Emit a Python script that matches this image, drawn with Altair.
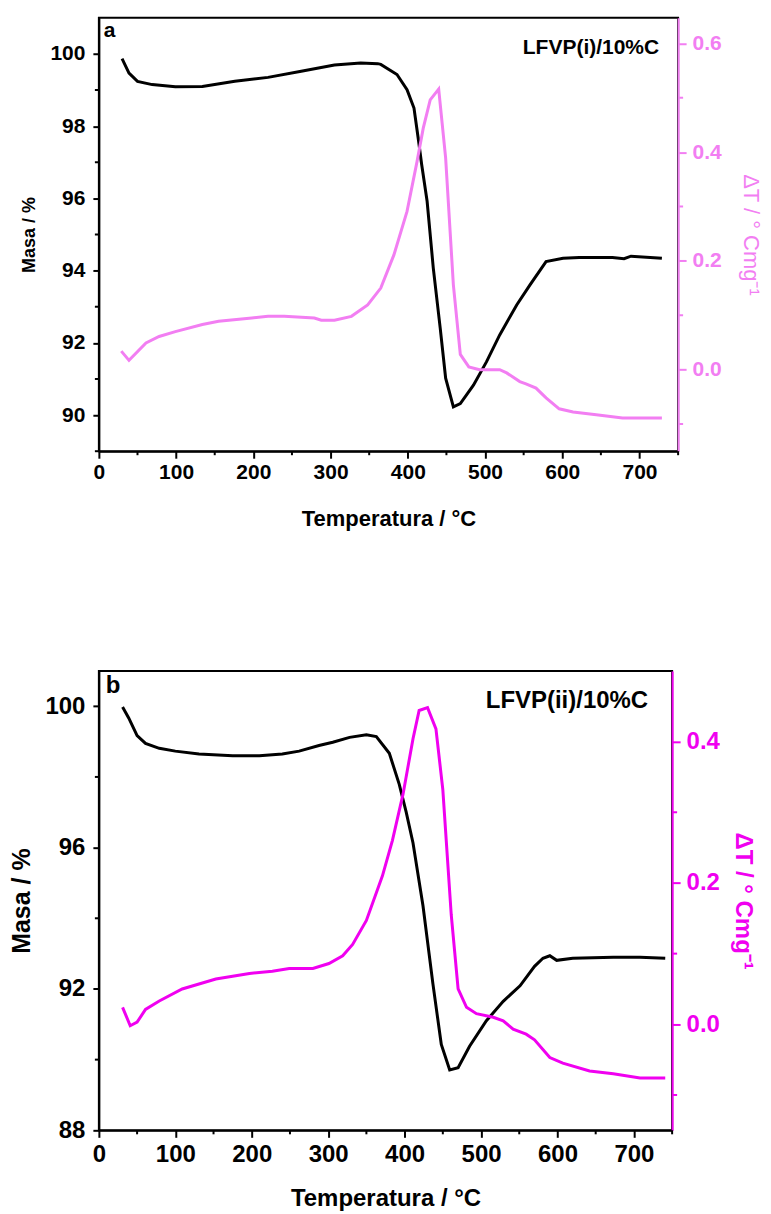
import altair as alt
import pandas as pd

FONT = "Liberation Sans"

# ---------------- Panel a data ----------------
T_a_mass = [30, 39, 50, 69, 99, 134, 176, 219, 262, 305, 339, 361, 365, 386, 399, 408, 414,
            418, 425, 433, 442, 449, 459, 468, 485, 502, 519, 541, 558, 579, 601, 622, 665,
            680, 689, 729]
mass_a = [99.87, 99.47, 99.24, 99.15, 99.09, 99.10, 99.24, 99.35, 99.52, 99.69, 99.75, 99.73,
          99.71, 99.43, 99.01, 98.50, 97.58, 96.93, 95.92, 94.07, 92.40, 91.02, 90.23, 90.32,
          90.83, 91.48, 92.22, 93.05, 93.60, 94.25, 94.34, 94.36, 94.36, 94.33, 94.40, 94.34]

T_a_dta = [29, 39, 61, 78, 99, 134, 155, 198, 219, 240, 279, 288, 305, 327, 348, 365, 382,
           399, 412, 420, 429, 440, 449, 459, 468, 479, 493, 519, 528, 545, 553, 566, 579,
           596, 614, 644, 678, 729]
dta_a = [0.034, 0.017, 0.049, 0.061, 0.070, 0.083, 0.089, 0.095, 0.098, 0.098, 0.095, 0.091,
         0.091, 0.098, 0.119, 0.150, 0.211, 0.291, 0.383, 0.444, 0.496, 0.516, 0.389, 0.156,
         0.028, 0.005, 0.000, 0.000, -0.006, -0.022, -0.026, -0.034, -0.052, -0.072, -0.078,
         -0.083, -0.089, -0.089]

# ---------------- Panel b data ----------------
T_b_mass = [31, 39, 50, 61, 79, 100, 131, 175, 210, 240, 262, 288, 306, 328, 350, 363, 380,
            393, 402, 411, 424, 437, 448, 459, 470, 485, 507, 529, 551, 570, 581, 590, 599,
            620, 673, 708, 741]
mass_b = [99.98, 99.67, 99.17, 98.95, 98.81, 98.73, 98.65, 98.60, 98.60, 98.65, 98.73, 98.89,
          98.98, 99.12, 99.19, 99.14, 98.67, 97.79, 97.01, 96.13, 94.36, 92.15, 90.43, 89.71,
          89.77, 90.38, 91.10, 91.65, 92.09, 92.64, 92.87, 92.94, 92.81, 92.87, 92.90, 92.90,
          92.87]

T_b_dta = [31, 41, 50, 61, 79, 109, 153, 197, 227, 249, 280, 301, 319, 332, 350, 371, 384,
           398, 411, 419, 430, 441, 450, 461, 470, 481, 494, 516, 529, 542, 559, 570, 590,
           607, 642, 673, 708, 741]
dta_b = [0.024, -0.002, 0.003, 0.021, 0.033, 0.050, 0.064, 0.072, 0.075, 0.079, 0.079, 0.086,
         0.097, 0.113, 0.147, 0.210, 0.260, 0.326, 0.404, 0.444, 0.448, 0.418, 0.332, 0.155,
         0.050, 0.024, 0.015, 0.010, 0.005, -0.007, -0.014, -0.022, -0.047, -0.055, -0.066,
         -0.070, -0.076, -0.076]

# ---------------- Text ----------------
panel_letters = ["a", "b"]
sample_labels = ["LFVP(i)/10%C", "LFVP(ii)/10%C"]
x_title = "Temperatura / °C"
y_title = "Masa / %"
y2_title = "ΔT / ° Cmg⁻¹"

# ---------------- Ticks ----------------
x_major = [0, 100, 200, 300, 400, 500, 600, 700]
x_minor = [50, 150, 250, 350, 450, 550, 650, 750]
ya_major = [90, 92, 94, 96, 98, 100]
ya_minor = [89, 91, 93, 95, 97, 99]
ya2_major = [0.0, 0.2, 0.4, 0.6]
ya2_minor = [-0.1, 0.1, 0.3, 0.5]
yb_major = [88, 92, 96, 100]
yb_minor = [90, 94, 98]
yb2_major = [0.0, 0.2, 0.4]
yb2_minor = [-0.1, 0.1, 0.3]


def panel(T_m, m, T_d, d, y_dom, y_major, y_minor, y2_dom, y2_major, y2_minor, pink, width,
          height, fs_tick, fs_xtitle, fs_ytitle, fs_y2title, y2_weight, letter, label,
          fs_label, letter_pos, label_pos, ytp, y2tp, xtp, xlp):
    df_m = pd.DataFrame({"T": T_m, "M": m})
    df_d = pd.DataFrame({"T": T_d, "D": d})
    xscale = alt.Scale(domain=[0, 750], nice=False)
    yscale = alt.Scale(domain=y_dom, nice=False, zero=False)
    y2scale = alt.Scale(domain=y2_dom, nice=False, zero=False)
    common = dict(grid=False, domainWidth=2, tickWidth=2, labelFont=FONT, titleFont=FONT,
                  labelFontWeight="bold", labelFlush=False)
    xaxis = alt.Axis(values=x_major, title=x_title, tickSize=7, labelPadding=xlp,
                     labelFontSize=fs_tick, titleFontSize=fs_xtitle, titlePadding=xtp,
                     domainColor="black", tickColor="black", labelColor="black",
                     titleColor="black", titleFontWeight="bold", **common)
    black = alt.Chart(df_m).mark_line(color="black", strokeWidth=3).encode(
        x=alt.X("T:Q", scale=xscale, axis=xaxis),
        y=alt.Y("M:Q", scale=yscale,
                axis=alt.Axis(values=y_major, title=y_title, tickSize=6, labelPadding=8,
                              labelFontSize=fs_tick, titleFontSize=fs_ytitle,
                              titlePadding=ytp, domainColor="black", tickColor="black",
                              labelColor="black", titleColor="black",
                              titleFontWeight="bold", **common)),
    )
    red = alt.Chart(df_d).mark_line(color=pink, strokeWidth=3).encode(
        x=alt.X("T:Q", scale=xscale, axis=xaxis),
        y=alt.Y("D:Q", scale=y2scale,
                axis=alt.Axis(orient="right", values=y2_major, title=y2_title, format=".1f",
                              tickSize=8, labelPadding=6, labelFontSize=fs_tick,
                              titleFontSize=fs_y2title, titlePadding=y2tp, titleAngle=90,
                              domainColor=pink, tickColor=pink, labelColor=pink,
                              titleColor=pink, titleFontWeight=y2_weight, **common)),
    )
    # minor ticks, positioned through the same scales
    xmin = alt.Chart(pd.DataFrame({"v": x_minor})).mark_rule(color="black", strokeWidth=2).encode(
        x=alt.X("v:Q", scale=xscale, axis=xaxis),
        y=alt.value(height), y2=alt.value(height + 4))
    ymin = alt.Chart(pd.DataFrame({"v": y_minor})).mark_rule(color="black", strokeWidth=2).encode(
        y=alt.Y("v:Q", scale=yscale, axis=None),
        x=alt.value(0), x2=alt.value(-4))
    y2min = alt.Chart(pd.DataFrame({"v": y2_minor})).mark_rule(color=pink, strokeWidth=2).encode(
        y=alt.Y("v:Q", scale=y2scale, axis=None),
        x=alt.value(width), x2=alt.value(width + 5))
    t_letter = alt.Chart(pd.DataFrame({"t": [letter]})).mark_text(
        align="left", baseline="alphabetic", font=FONT, fontSize=fs_label,
        fontWeight="bold", color="black").encode(
        x=alt.value(letter_pos[0]), y=alt.value(letter_pos[1]), text="t:N")
    t_label = alt.Chart(pd.DataFrame({"t": [label]})).mark_text(
        align="right", baseline="alphabetic", font=FONT, fontSize=fs_label,
        fontWeight="bold", color="black").encode(
        x=alt.value(label_pos[0]), y=alt.value(label_pos[1]), text="t:N")
    return alt.layer(black, red, xmin, ymin, y2min, t_letter, t_label).resolve_scale(
        y="independent").properties(width=width, height=height)


pa = panel(T_a_mass, mass_a, T_a_dta, dta_a, [89, 101], ya_major, ya_minor, [-0.15, 0.647],
           ya2_major, ya2_minor, "#f27ef2", 580, 434, 21, 22, 18, 22, "normal",
           panel_letters[0], sample_labels[0], 21, (5, 19), (561, 36), 11, 17, 26, 3)
pb = panel(T_b_mass, mass_b, T_b_dta, dta_b, [88, 101], yb_major, yb_minor, [-0.15, 0.5],
           yb2_major, yb2_minor, "#f000f0", 574, 460, 24, 24, 25, 24, "bold",
           panel_letters[1], sample_labels[1], 24, (7, 22), (550, 37), 10, 11, 20, 5)

chart = alt.vconcat(pa, pb, spacing=220, bounds="flush").properties(
    padding={"left": 0, "top": 8, "right": 0, "bottom": 0}
).configure_view(stroke="black", strokeWidth=2)

chart.save("out.html", embed_options={"renderer": "svg", "actions": False})
